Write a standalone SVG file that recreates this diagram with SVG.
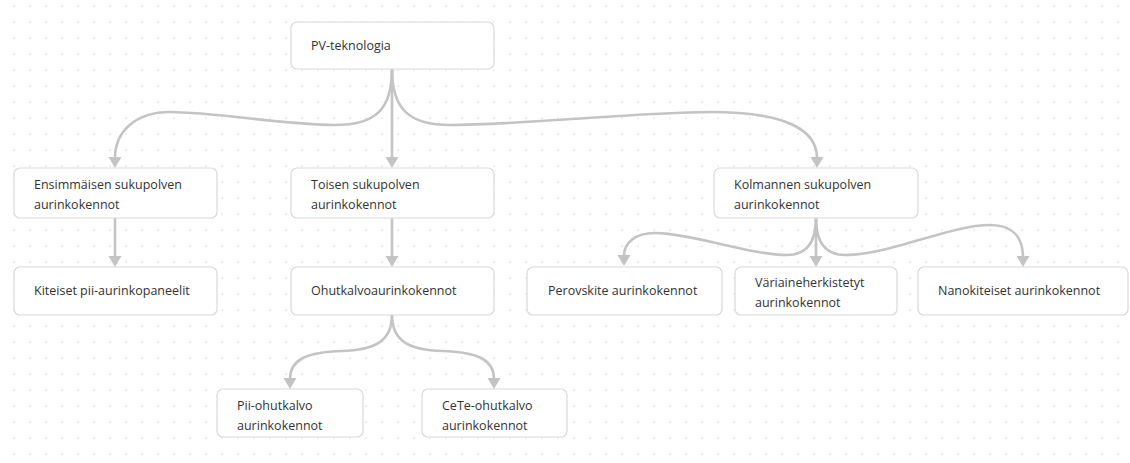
<svg xmlns="http://www.w3.org/2000/svg" width="1130" height="463" viewBox="0 0 1130 463">
<defs>
<pattern id="dots" patternUnits="userSpaceOnUse" x="0" y="0" width="16" height="16">
<rect x="13.5" y="5.5" width="1.2" height="1.2" fill="#d4d4d4"/>
</pattern>
<marker id="arr" viewBox="0 0 13 11" refX="6.5" refY="11" markerWidth="13" markerHeight="11" markerUnits="userSpaceOnUse" orient="auto-start-reverse">
<path d="M0,0 L13,0 L6.5,11 Z" fill="#c4c4c4"/>
</marker>
<style>
.node rect{fill:#ffffff;stroke:#d9d9d9;stroke-width:1.2}
.node text{font-family:"Open Sans","Noto Sans","DejaVu Sans",sans-serif;font-size:12.5px;fill:#333333}
.edge{fill:none;stroke:#c4c4c4;stroke-width:2.6}
</style>
</defs>
<rect x="0" y="0" width="1130" height="463" fill="#ffffff"/>
<rect x="0" y="0" width="1130" height="463" fill="url(#dots)"/>
<g id="connectors">
<path class="edge" d="M392,69 C392,110 375,125 335,125 C285,125 215,112 170,112 C135,112 115,132 115,158"/>
<polygon points="108.5,157 121.5,157 115,168" fill="#c4c4c4"/>
<path class="edge" d="M392,69 L392,158"/>
<polygon points="385.5,157 398.5,157 392,168" fill="#c4c4c4"/>
<path class="edge" d="M392,69 C392,110 410,125 450,125 C520,125 640,112 710,112 C790,112 817,132 817,158"/>
<polygon points="810.5,157 823.5,157 817,168" fill="#c4c4c4"/>
<path class="edge" d="M115,218 L115,257"/>
<polygon points="108.5,256 121.5,256 115,267" fill="#c4c4c4"/>
<path class="edge" d="M392,218 L392,257"/>
<polygon points="385.5,256 398.5,256 392,267" fill="#c4c4c4"/>
<path class="edge" d="M816,218 C816,245 805,255 787,255 C750,255 690,233 655,233 C635,233 624,243 624,256"/>
<polygon points="617.5,255 630.5,255 624,266" fill="#c4c4c4"/>
<path class="edge" d="M816,218 L816,257"/>
<polygon points="809.5,256 822.5,256 816,267" fill="#c4c4c4"/>
<path class="edge" d="M816,218 C816,245 828,255 845,255 C890,255 950,225 990,225 C1015,225 1023,240 1023,257"/>
<polygon points="1016.5,256 1029.5,256 1023,267" fill="#c4c4c4"/>
<path class="edge" d="M392,315 C392,343 372,350 342,351 C306,352 290,360 290,379"/>
<polygon points="283.5,378 296.5,378 290,389" fill="#c4c4c4"/>
<path class="edge" d="M392,315 C392,343 412,350 442,351 C478,352 494,360 494,379"/>
<polygon points="487.5,378 500.5,378 494,389" fill="#c4c4c4"/>
</g>
<g id="n-pv" class="node"><rect x="291" y="22" width="203" height="47" rx="6"/><text x="311" y="50">PV-teknologia</text></g>
<g id="n-gen1" class="node"><rect x="14" y="168" width="203" height="50" rx="6"/><text x="34" y="189">Ensimmäisen sukupolven</text><text x="34" y="209">aurinkokennot</text></g>
<g id="n-gen2" class="node"><rect x="291" y="168" width="203" height="50" rx="6"/><text x="311" y="189">Toisen sukupolven</text><text x="311" y="209">aurinkokennot</text></g>
<g id="n-gen3" class="node"><rect x="714" y="168" width="204" height="50" rx="6"/><text x="734" y="189">Kolmannen sukupolven</text><text x="734" y="209">aurinkokennot</text></g>
<g id="n-kiteiset" class="node"><rect x="14" y="267" width="203" height="48" rx="6"/><text x="34" y="295">Kiteiset pii-aurinkopaneelit</text></g>
<g id="n-ohut" class="node"><rect x="291" y="267" width="203" height="48" rx="6"/><text x="311" y="295">Ohutkalvoaurinkokennot</text></g>
<g id="n-perov" class="node"><rect x="527" y="267" width="195" height="48" rx="6"/><text x="548" y="295">Perovskite aurinkokennot</text></g>
<g id="n-vari" class="node"><rect x="735" y="267" width="162" height="48" rx="6"/><text x="755" y="287">Väriaineherkistetyt</text><text x="755" y="307">aurinkokennot</text></g>
<g id="n-nano" class="node"><rect x="918" y="267" width="210" height="48" rx="6"/><text x="938" y="295">Nanokiteiset aurinkokennot</text></g>
<g id="n-pii" class="node"><rect x="217" y="389" width="146" height="48" rx="6"/><text x="237" y="410">Pii-ohutkalvo</text><text x="237" y="430">aurinkokennot</text></g>
<g id="n-cete" class="node"><rect x="422" y="389" width="145" height="48" rx="6"/><text x="442" y="410">CeTe-ohutkalvo</text><text x="442" y="430">aurinkokennot</text></g>
</svg>
